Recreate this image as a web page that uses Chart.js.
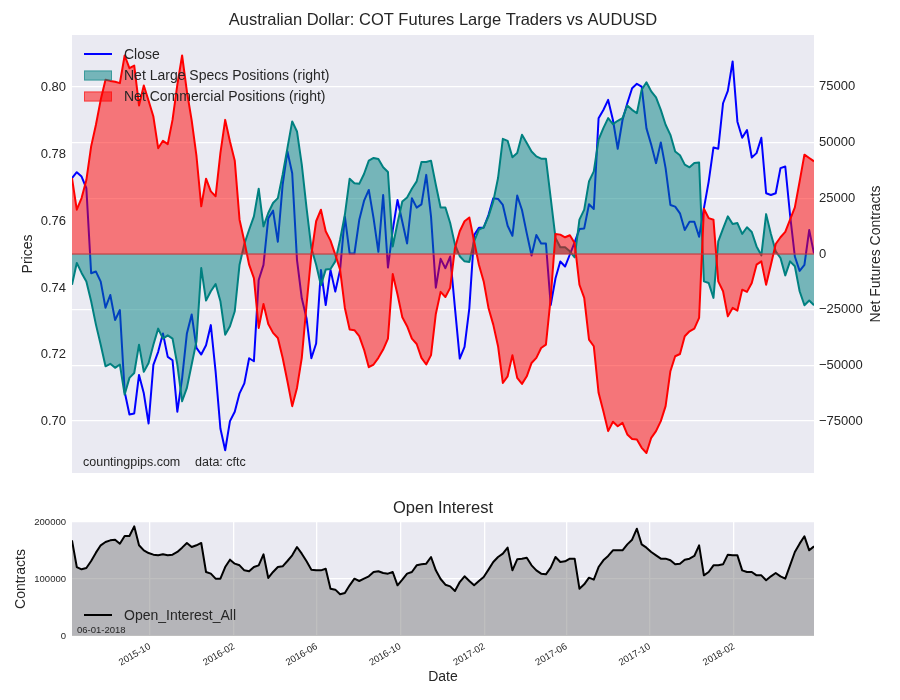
<!DOCTYPE html>
<html>
<head>
<meta charset="utf-8">
<title>Australian Dollar COT</title>
<script src="https://cdn.jsdelivr.net/npm/chart.js@4.4.1/dist/chart.umd.min.js"></script>
<style>
  html, body { margin: 0; padding: 0; background: #fff; }
  #wrap { position: relative; width: 900px; height: 700px; }
  canvas { position: absolute; left: 0; }
  #topChart { top: 0; }
  #oiChart { top: 490px; }
</style>
</head>
<body>
<div id="wrap">
  <canvas id="topChart" width="900" height="490"></canvas>
  <canvas id="oiChart" width="900" height="210"></canvas>
</div>
<script>
// weekly COT report values, first report 2015-06-09, last 2018-05-29
const closePrice = [
  0.7728, 0.7746, 0.7733, 0.7698, 0.7444, 0.7449, 0.7419, 0.7341, 0.7379, 0.7304,
  0.7334, 0.7090, 0.7022, 0.7025, 0.7140, 0.7085, 0.6995, 0.7170, 0.7209, 0.7264,
  0.7194, 0.7184, 0.7030, 0.7130, 0.7264, 0.7321, 0.7221, 0.7201, 0.7229, 0.7289,
  0.7150, 0.6980, 0.6915, 0.7002, 0.7030, 0.7085, 0.7115, 0.7190, 0.7181, 0.7424,
  0.7469, 0.7608, 0.7631, 0.7538, 0.7708, 0.7808, 0.7743, 0.7484, 0.7369, 0.7309,
  0.7190, 0.7234, 0.7454, 0.7349, 0.7454, 0.7389, 0.7454, 0.7613, 0.7503, 0.7503,
  0.7603, 0.7660, 0.7693, 0.7608, 0.7508, 0.7678, 0.7461, 0.7573, 0.7663, 0.7598,
  0.7533, 0.7668, 0.7640, 0.7650, 0.7738, 0.7613, 0.7401, 0.7487, 0.7459, 0.7494,
  0.7340, 0.7189, 0.7224, 0.7339, 0.7558, 0.7580, 0.7580, 0.7618, 0.7668, 0.7666,
  0.7648, 0.7586, 0.7556, 0.7676, 0.7633, 0.7563, 0.7497, 0.7558, 0.7533, 0.7533,
  0.7349, 0.7429, 0.7479, 0.7464, 0.7500, 0.7536, 0.7576, 0.7578, 0.7650, 0.7636,
  0.7907, 0.7932, 0.7962, 0.7902, 0.7816, 0.7902, 0.7952, 0.7997, 0.8010, 0.8002,
  0.7877, 0.7828, 0.7773, 0.7835, 0.7758, 0.7648, 0.7643, 0.7623, 0.7573, 0.7598,
  0.7598, 0.7553, 0.7638, 0.7718, 0.7820, 0.7816, 0.7952, 0.7989, 0.8077, 0.7897,
  0.7849, 0.7872, 0.7790, 0.7803, 0.7849, 0.7683, 0.7678, 0.7683, 0.7758, 0.7763,
  0.7618, 0.7494, 0.7451, 0.7469, 0.7573, 0.7503
];

const largeSpecs = [
  -13800, -4000, -8500, -12300, -21200, -31700, -40700, -50400, -49300, -51100,
  -49600, -63100, -55600, -53400, -40700, -52900, -48900, -40700, -33500, -38000,
  -36500, -38000, -49600, -66100, -60100, -49600, -39200, -6300, -20900, -16700,
  -13500, -21200, -36200, -32400, -25700, -4800, 4500, 10900, 16900, 29300,
  12400, 18400, 22900, 25100, 35600, 47500, 59500, 55000, 40100, 20600,
  2700, -4800, -14000, -7000, -6700, -3300, 6400, 17600, 33800, 31800,
  31500, 35900, 41900, 43100, 42600, 38900, 36800, 3400, 13900, 23600,
  25400, 29300, 32600, 41300, 41300, 41900, 31100, 20900, 20900, 13900,
  4200, -1000, -3300, -3600, 5700, 10900, 12000, 16900, 23600, 34100,
  51700, 50800, 43400, 45300, 53500, 49800, 46000, 43800, 42800, 42800,
  25100, 7200, 3000, 3000, 1200, -1500, 15400, 19900, 32600, 37100,
  51300, 56500, 61000, 58300, 59800, 61000, 66700, 64700, 63200, 73700,
  77100, 73000, 70300, 64700, 58000, 53500, 46000, 44300, 40100, 38900,
  40800, 41100, -12300, -13000, -19700, 5700, 11400, 16900, 13500, 13900,
  9000, 12000, 9900, 3400, -600, 17900, 9000, 1200, -1800, -9600,
  -3300, -5500, -16700, -23000, -20900, -23000
];

const commercial = [
  34100, 19900, 25100, 33200, 48300, 58000, 69200, 78200, 77700, 77300,
  76700, 89100, 83400, 84600, 66700, 75600, 68800, 61700, 47500, 50800,
  49300, 60200, 75900, 89100, 73000, 60000, 44000, 21400, 33800, 28100,
  25900, 45300, 60200, 50500, 41900, 15400, 5700, -4800, -10800, -33200,
  -22400, -31400, -35400, -37700, -46600, -57100, -68300, -60100, -46600, -22700,
  -300, 14700, 19900, 10200, 6000, -300, -7000, -24200, -33900, -34200,
  -36900, -42900, -50800, -49600, -46600, -42900, -38000, -9000, -18200, -28400,
  -32400, -38000, -40400, -46600, -49600, -45400, -26900, -17000, -19300, -15200,
  2700, 10200, 14700, 16400, 5700, -4800, -12300, -24200, -31700, -41400,
  -57900, -54900, -45400, -55600, -58300, -54900, -48900, -46600, -42200, -40700,
  -19700, 9000, 8700, 7500, 8400, 4900, -13800, -19700, -38400, -41400,
  -62300, -70600, -79500, -75300, -77300, -75800, -81000, -83000, -83300, -87000,
  -89300, -82500, -79500, -75000, -68300, -52600, -45900, -44900, -36900, -34700,
  -33500, -28700, 20300, 16100, 15400, -12300, -16700, -28000, -24200, -25400,
  -16000, -17000, -13000, -4800, -3300, -13800, -4800, 4500, 7500, 9900,
  15400, 20900, 32600, 44600, 43100, 41600
];

const openInterest = [
  167800, 121000, 117000, 119300, 131600, 146200, 159100, 164900, 167800, 169000,
  162000, 175400, 175400, 192400, 159100, 150300, 145600, 142700, 141500, 143300,
  141500, 142700, 147400, 155000, 163200, 156100, 159100, 163200, 112300, 109400,
  100600, 100600, 121000, 133900, 126900, 124000, 115200, 113500, 121000, 124000,
  143300, 101800, 112300, 121000, 122200, 131600, 141500, 156100, 144400, 131000,
  116400, 115200, 115200, 118100, 83000, 81300, 73100, 75400, 88900, 100600,
  96500, 100600, 104700, 112300, 113500, 110500, 109400, 112300, 88900, 98800,
  109400, 112300, 124000, 125700, 126900, 138600, 115200, 100000, 90000, 87100,
  79000, 94700, 104700, 96500, 88900, 96500, 103500, 116400, 129800, 138600,
  144400, 155000, 115200, 134500, 135700, 137400, 124000, 115200, 109400, 108200,
  119900, 138600, 129800, 131000, 135700, 135700, 83000, 90600, 102300, 98800,
  121000, 132800, 140400, 150300, 150300, 150300, 160800, 169000, 188300, 160800,
  155000, 147400, 141500, 135700, 135700, 132800, 125700, 126900, 133900, 135700,
  140400, 159100, 106400, 112300, 124000, 124000, 125700, 142700, 141500, 141500,
  115200, 112300, 112300, 106400, 106400, 97700, 104700, 110500, 104700, 100600,
  124000, 147400, 162000, 174900, 150300, 157300
];

const priceTicks = [0.70, 0.72, 0.74, 0.76, 0.78, 0.80];
const netTicks = [-75000, -50000, -25000, 0, 25000, 50000, 75000];
const oiTicks = [0, 100000, 200000];
const dateTickLabels = ['2015-10', '2016-02', '2016-06', '2016-10', '2017-02', '2017-06', '2017-10', '2018-02'];

const DAY = 86400000;
const firstReport = Date.UTC(2015, 5, 9);
const reportDays = closePrice.map((_, i) => i * 7);
const lastDay = reportDays[reportDays.length - 1];
const dateTickDays = dateTickLabels.map(s => (Date.UTC(+s.slice(0, 4), +s.slice(5) - 1, 1) - firstReport) / DAY);

const FONT = '"Liberation Sans", Arial, sans-serif';
const TEXT = '#262626';
Chart.defaults.font.family = FONT;
Chart.defaults.color = TEXT;

const pts = arr => arr.map((v, i) => ({ x: reportDays[i], y: v }));
const minus = v => (v < 0 ? '\u2212' + Math.abs(v) : String(v));

const plotBg = {
  id: 'plotBg',
  beforeDraw(chart) {
    const a = chart.chartArea, ctx = chart.ctx;
    ctx.save();
    ctx.fillStyle = '#eaeaf2';
    ctx.fillRect(a.left, a.top, a.right - a.left, a.bottom - a.top);
    ctx.restore();
  }
};

function textLayer(items, legend) {
  return {
    id: 'textLayer',
    afterDraw(chart) {
      const ctx = chart.ctx;
      (legend || []).forEach(l => {
        ctx.save();
        if (l.kind === 'line') {
          ctx.strokeStyle = l.color;
          ctx.lineWidth = 2;
          ctx.beginPath();
          ctx.moveTo(84, l.y);
          ctx.lineTo(112, l.y);
          ctx.stroke();
        } else {
          ctx.fillStyle = l.fill;
          ctx.strokeStyle = l.fill;
          ctx.fillRect(84, l.y - 5, 28, 10);
          ctx.strokeRect(84.5, l.y - 4.5, 27, 9);
        }
        ctx.fillStyle = TEXT;
        ctx.font = '14px ' + FONT;
        ctx.textBaseline = 'middle';
        ctx.fillText(l.text, 124, l.y + 1);
        ctx.restore();
      });
      items.forEach(t => {
        ctx.save();
        ctx.font = t.font + ' ' + FONT;
        ctx.fillStyle = t.color || TEXT;
        ctx.textAlign = t.align || 'left';
        ctx.textBaseline = 'middle';
        ctx.translate(t.x, t.y);
        if (t.rot) ctx.rotate(t.rot);
        ctx.fillText(t.text, 0, 0);
        ctx.restore();
      });
    }
  };
}

const zeroLine = {
  id: 'zeroLine',
  afterDatasetsDraw(chart) {
    const a = chart.chartArea, ctx = chart.ctx;
    const y = chart.scales.yR.getPixelForValue(0);
    ctx.save();
    ctx.strokeStyle = 'rgba(190,60,65,0.8)';
    ctx.lineWidth = 1.5;
    ctx.beginPath();
    ctx.moveTo(a.left, y);
    ctx.lineTo(a.right, y);
    ctx.stroke();
    ctx.restore();
  }
};

new Chart(document.getElementById('topChart'), {
  type: 'line',
  data: {
    datasets: [
      { label: 'Close', data: pts(closePrice), yAxisID: 'y', borderColor: '#0000ff',
        borderWidth: 2, fill: false, order: 3 },
      { label: 'Net Large Specs Positions (right)', data: pts(largeSpecs), yAxisID: 'yR',
        borderColor: '#008080', backgroundColor: 'rgba(0,128,128,0.5)', borderWidth: 2,
        fill: 'origin', order: 2 },
      { label: 'Net Commercial Positions (right)', data: pts(commercial), yAxisID: 'yR',
        borderColor: '#ff0000', backgroundColor: 'rgba(255,0,0,0.5)', borderWidth: 2,
        fill: 'origin', order: 1 }
    ]
  },
  options: {
    responsive: false,
    animation: false,
    devicePixelRatio: 1,
    layout: { padding: { top: 35, bottom: 17, left: 0, right: 0 } },
    elements: { point: { radius: 0 }, line: { tension: 0, borderJoinStyle: 'round' } },
    plugins: { legend: { display: false }, tooltip: { enabled: false } },
    scales: {
      x: { type: 'linear', min: 0, max: lastDay, display: false },
      y: {
        position: 'left', min: 0.6847, max: 0.8156,
        grid: { display: false, drawTicks: false }, border: { display: false },
        afterBuildTicks: s => { s.ticks = priceTicks.map(v => ({ value: v })); },
        afterFit: s => { s.width = 72; },
        ticks: { padding: 6, font: { size: 13 }, callback: v => v.toFixed(2) }
      },
      yR: {
        position: 'right', min: -98300, max: 98300,
        grid: { color: '#ffffff', lineWidth: 1.3, drawTicks: false }, border: { display: false },
        afterBuildTicks: s => { s.ticks = netTicks.map(v => ({ value: v })); },
        afterFit: s => { s.width = 86; },
        ticks: { padding: 5, font: { size: 13 }, callback: v => minus(v) }
      }
    }
  },
  plugins: [plotBg, zeroLine, textLayer([
    { text: 'Australian Dollar: COT Futures Large Traders vs AUDUSD', x: 443, y: 20, font: '16.5px', align: 'center' },
    { text: 'Prices', x: 28, y: 254, font: '14px', align: 'center', rot: -Math.PI / 2 },
    { text: 'Net Futures Contracts', x: 876, y: 254, font: '14px', align: 'center', rot: -Math.PI / 2 },
    { text: 'countingpips.com', x: 83, y: 463, font: '12.5px' },
    { text: 'data: cftc', x: 195, y: 463, font: '12.5px' }
  ], [
    { kind: 'line', color: '#0000ff', y: 54, text: 'Close' },
    { kind: 'box', fill: 'rgba(0,128,128,0.5)', y: 75.5, text: 'Net Large Specs Positions (right)' },
    { kind: 'box', fill: 'rgba(255,0,0,0.5)', y: 96.5, text: 'Net Commercial Positions (right)' }
  ])]
});

new Chart(document.getElementById('oiChart'), {
  type: 'line',
  data: {
    datasets: [
      { label: 'Open_Interest_All', data: pts(openInterest), borderColor: '#000000',
        backgroundColor: 'rgba(128,128,128,0.5)', borderWidth: 2, fill: 'origin' }
    ]
  },
  options: {
    responsive: false,
    animation: false,
    devicePixelRatio: 1,
    layout: { padding: { top: 32, bottom: 0, left: 0, right: 86 } },
    elements: { point: { radius: 0 }, line: { tension: 0, borderJoinStyle: 'round' } },
    plugins: { legend: { display: false }, tooltip: { enabled: false } },
    scales: {
      x: {
        type: 'linear', min: 0, max: lastDay,
        grid: { color: '#ffffff', lineWidth: 1.3, drawTicks: false }, border: { display: false },
        afterBuildTicks: s => { s.ticks = dateTickDays.map(v => ({ value: v })); },
        afterFit: s => { s.height = 64; },
        ticks: { padding: 5, autoSkip: false, minRotation: 30, maxRotation: 30,
                 font: { size: 9.5 }, callback: (v, i) => dateTickLabels[i] }
      },
      y: {
        position: 'left', min: 0, max: 200000,
        grid: { color: '#ffffff', lineWidth: 1.3, drawTicks: false }, border: { display: false },
        afterBuildTicks: s => { s.ticks = oiTicks.map(v => ({ value: v })); },
        afterFit: s => { s.width = 72; },
        ticks: { padding: 6, font: { size: 9.5 }, callback: v => String(v) }
      }
    }
  },
  plugins: [plotBg, textLayer([
    { text: 'Open Interest', x: 443, y: 18, font: '16.5px', align: 'center' },
    { text: 'Contracts', x: 21, y: 89, font: '14px', align: 'center', rot: -Math.PI / 2 },
    { text: 'Date', x: 443, y: 187, font: '14px', align: 'center' },
    { text: '06-01-2018', x: 77, y: 140.5, font: '9.5px' }
  ], [
    { kind: 'line', color: '#000000', y: 125, text: 'Open_Interest_All' }
  ])]
});
</script>
</body>
</html>
